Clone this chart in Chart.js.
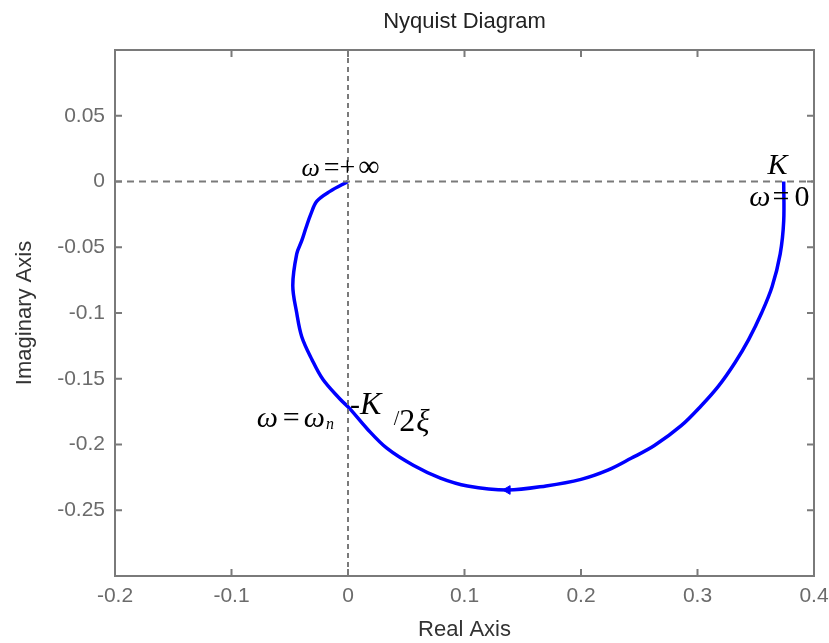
<!DOCTYPE html>
<html>
<head>
<meta charset="utf-8">
<script src="https://cdn.jsdelivr.net/npm/chart.js@4"></script>
<style>
  html, body { margin: 0; padding: 0; background: #fff; }
  #wrap { width: 829px; height: 643px; position: relative; }
</style>
</head>
<body>
<div id="wrap"><canvas id="nyq"></canvas></div>
<script>
// Nyquist curve (from w = 0 to w = +inf)
const reVals = [0.374, 0.374, 0.371, 0.364, 0.355, 0.344, 0.332, 0.318, 0.303, 0.286,
  0.263, 0.243, 0.223, 0.200, 0.170, 0.137, 0.1026, 0.0793, 0.056, 0.0336,
  0.0164, 0.0017, -0.0069, -0.0216, -0.031, -0.0397, -0.044, -0.0474, -0.044, -0.0397,
  -0.036, -0.032, -0.0267, -0.0155, 0.000];
const imVals = [0.000, -0.030, -0.055, -0.080, -0.100, -0.120, -0.138, -0.1556, -0.1707, -0.1857,
  -0.2008, -0.2105, -0.2195, -0.2265, -0.2315, -0.2346, -0.2316, -0.2256, -0.2158, -0.203,
  -0.188, -0.1729, -0.1654, -0.1504, -0.1353, -0.118, -0.100, -0.079, -0.055, -0.045,
  -0.035, -0.025, -0.015, -0.0075, 0.000];

// direction arrow on the curve
const arrowRe = [0.137];
const arrowIm = [-0.2346];

// axes
const xTicks = [-0.2, -0.1, 0, 0.1, 0.2, 0.3, 0.4];
const yTicks = [-0.3, -0.25, -0.2, -0.15, -0.1, -0.05, 0, 0.05, 0.1];
const yHidden = [-0.3, 0.1];

const titleText = 'Nyquist Diagram';

// math labels: anchor in data units + text runs [text, italic/normal, size, gap after, dy]
const notes = [
  { x: -0.040, y: 0.004, runs: [['ω', 'i', 26, 4], ['=', 'n', 28, 0], ['+', 'n', 28, 3], ['∞', 'n', 30, 0]] },
  { x: 0.360, y: 0.006, runs: [['K', 'i', 30, 0]] },
  { x: 0.3445, y: -0.019, runs: [['ω', 'i', 30, 2], ['=', 'n', 30, 5], ['0', 'n', 30, 0]] },
  { x: -0.0784, y: -0.1865, runs: [['ω', 'i', 30, 5], ['=', 'n', 30, 4], ['ω', 'i', 30, 1], ['n', 'i', 16, 0, 2]] },
  { x: 0.0017, y: -0.1767, runs: [['-', 'n', 30, 0], ['K', 'i', 32, 0]] },
  { x: 0.0392, y: -0.1895, runs: [['/', 'n', 20, 0, -6], ['2', 'n', 32, 1], ['ξ', 'i', 31, 0]] },
];

const curve = reVals.map((x, i) => ({ x, y: imVals[i] }));
const arrow = arrowRe.map((x, i) => ({ x, y: arrowIm[i] }));

const GREY = '#7a7a7a';
const TICK_COL = '#6b6b6b';
const SANS = '"Liberation Sans", Arial, sans-serif';

const fmt = v => {
  if (Math.abs(v) < 1e-9) return '0';
  return String(+v.toFixed(2));
};

// MATLAB-like box with inward ticks, title over the plot, and the math labels
const framePlugin = {
  id: 'frame',
  beforeDatasetsDraw(chart) {
    const { ctx, chartArea: a, scales: { x, y } } = chart;
    ctx.save();
    ctx.strokeStyle = GREY;
    ctx.lineWidth = 2;
    ctx.setLineDash([]);
    ctx.beginPath();
    xTicks.forEach(v => {
      const px = x.getPixelForValue(v);
      ctx.moveTo(px, a.bottom); ctx.lineTo(px, a.bottom - 7);
      ctx.moveTo(px, a.top); ctx.lineTo(px, a.top + 7);
    });
    yTicks.forEach(v => {
      const py = y.getPixelForValue(v);
      ctx.moveTo(a.left, py); ctx.lineTo(a.left + 7, py);
      ctx.moveTo(a.right, py); ctx.lineTo(a.right - 7, py);
    });
    ctx.stroke();
    ctx.strokeRect(a.left, a.top, a.right - a.left, a.bottom - a.top);

    ctx.fillStyle = '#222';
    ctx.font = '22px ' + SANS;
    ctx.textAlign = 'center';
    ctx.textBaseline = 'middle';
    ctx.fillText(titleText, (a.left + a.right) / 2, a.top - 28);
    ctx.restore();
  },
  afterDatasetsDraw(chart) {
    const { ctx, scales: { x, y } } = chart;
    ctx.save();
    ctx.fillStyle = '#000';
    ctx.textBaseline = 'alphabetic';
    ctx.textAlign = 'left';
    notes.forEach(n => {
      let cx = x.getPixelForValue(n.x);
      const by = y.getPixelForValue(n.y);
      n.runs.forEach(([t, st, size, gap, dy]) => {
        ctx.font = (st === 'i' ? 'italic ' : '') + size + 'px "Liberation Serif", "DejaVu Serif", serif';
        ctx.fillText(t, cx, by + (dy || 0));
        cx += ctx.measureText(t).width + gap;
      });
    });
    ctx.restore();
  },
};

new Chart(document.getElementById('nyq'), {
  type: 'scatter',
  data: {
    datasets: [
      {
        label: 'zero-im',
        data: [{ x: -0.2, y: 0 }, { x: 0.4, y: 0 }],
        showLine: true,
        borderColor: GREY,
        borderWidth: 2,
        borderDash: [7, 5],
        pointRadius: 0,
      },
      {
        label: 'zero-re',
        data: [{ x: 0, y: -0.3 }, { x: 0, y: 0.1 }],
        showLine: true,
        borderColor: GREY,
        borderWidth: 2,
        borderDash: [5, 4],
        pointRadius: 0,
      },
      {
        label: 'G(jw)',
        data: curve,
        showLine: true,
        borderColor: '#0000ff',
        borderWidth: 3.5,
        tension: 0.35,
        pointRadius: 0,
      },
      {
        label: 'arrow',
        data: arrow,
        pointStyle: 'triangle',
        rotation: -90,
        pointRadius: 5,
        backgroundColor: '#0000ff',
        borderColor: '#0000ff',
        borderWidth: 1,
      },
    ],
  },
  options: {
    responsive: true,
    maintainAspectRatio: false,
    animation: false,
    events: [],
    layout: {
      autoPadding: false,
      padding: { left: 0, right: 15, top: 50, bottom: 0 },
    },
    plugins: {
      legend: { display: false },
      tooltip: { enabled: false },
      title: { display: false },
    },
    scales: {
      x: {
        type: 'linear',
        min: -0.2,
        max: 0.4,
        border: { display: false },
        grid: { display: false, drawTicks: false },
        afterBuildTicks: s => { s.ticks = xTicks.map(v => ({ value: v })); },
        afterFit: s => { s.height = 67; s.paddingLeft = 0; s.paddingRight = 0; },
        ticks: {
          color: TICK_COL,
          padding: 8,
          maxRotation: 0,
          font: { family: SANS, size: 21 },
          callback: v => fmt(v),
        },
        title: {
          display: true,
          text: 'Real Axis',
          color: '#333',
          font: { family: SANS, size: 22 },
          padding: { top: 0, bottom: 0 },
        },
      },
      y: {
        type: 'linear',
        min: -0.3,
        max: 0.1,
        border: { display: false },
        grid: { display: false, drawTicks: false },
        afterBuildTicks: s => { s.ticks = yTicks.map(v => ({ value: v })); },
        afterFit: s => { s.width = 115; s.paddingTop = 0; s.paddingBottom = 0; },
        ticks: {
          color: TICK_COL,
          padding: 10,
          font: { family: SANS, size: 21 },
          callback: v => (yHidden.some(h => Math.abs(h - v) < 1e-9) ? '' : fmt(v)),
        },
        title: {
          display: true,
          text: 'Imaginary Axis',
          color: '#333',
          font: { family: SANS, size: 22 },
          padding: { top: 12, bottom: 0 },
        },
      },
    },
  },
  plugins: [framePlugin],
});
</script>
</body>
</html>
